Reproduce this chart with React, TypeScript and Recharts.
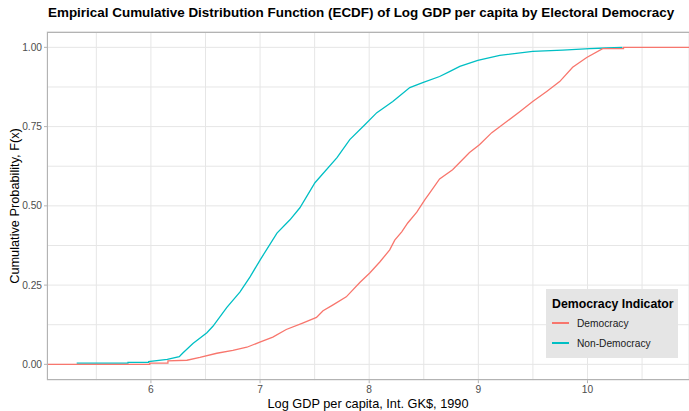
import { LineChart, Line, XAxis, YAxis, CartesianGrid } from 'recharts';

const X_MIN = 5.048;
const X_MAX = 10.93;

// ECDF of Democracy (padded to the panel edges)
const demX = [
  X_MIN, 5.99, 5.99, 6.156, 6.156, 6.33, 6.449, 6.604, 6.751, 6.879, 6.998, 7.117, 7.24, 7.39,
  7.517, 7.577, 7.665, 7.79, 7.914, 8.005, 8.097, 8.188, 8.234, 8.298, 8.353, 8.436, 8.509,
  8.555, 8.645, 8.764, 8.919, 9.01, 9.123, 9.26, 9.379, 9.498, 9.626, 9.745, 9.864, 9.993,
  10.139, 10.33, 10.33, X_MAX,
];
const demY = [
  0, 0, 0.004, 0.004, 0.011, 0.013, 0.022, 0.035, 0.044, 0.054, 0.07, 0.086, 0.11, 0.13,
  0.148, 0.169, 0.187, 0.213, 0.258, 0.288, 0.323, 0.361, 0.392, 0.418, 0.446, 0.48, 0.519,
  0.541, 0.585, 0.614, 0.668, 0.693, 0.731, 0.766, 0.797, 0.829, 0.861, 0.892, 0.937, 0.968,
  0.996, 0.996, 1, 1,
];

// ECDF of Non-Democracy (its padding is hidden under the red line)
const nonDemX = [
  5.32, 5.79, 5.79, 5.98, 5.98, 6.15, 6.26, 6.29, 6.385, 6.513, 6.568, 6.696,
  6.815, 6.907, 7.0, 7.155, 7.274, 7.365, 7.503, 7.705, 7.822, 7.96, 8.07, 8.216, 8.372, 8.49,
  8.645, 8.74, 8.83, 8.995, 9.196, 9.498, 9.773, 10.02, 10.17, 10.32,
];
const nonDemY = [
  0.004, 0.004, 0.006, 0.006, 0.009, 0.016, 0.024, 0.035, 0.066, 0.1, 0.12, 0.18,
  0.228, 0.275, 0.329, 0.414, 0.456, 0.494, 0.573, 0.652, 0.709, 0.756, 0.794, 0.829, 0.873,
  0.889, 0.908, 0.924, 0.94, 0.959, 0.975, 0.987, 0.991, 0.996, 0.998, 1,
];

const xTicks = [5.5, 6, 6.5, 7, 7.5, 8, 8.5, 9, 9.5, 10, 10.5];
const yTicks = [0, 0.125, 0.25, 0.375, 0.5, 0.625, 0.75, 0.875, 1];

const seriesNames = ['Democracy', 'Non-Democracy'];
const seriesColors = ['#F8766D', '#00BFC4'];

const demData = demX.map((x, i) => ({ x, y: demY[i] }));
const nonDemData = nonDemX.map((x, i) => ({ x, y: nonDemY[i] }));

const FONT = '"Liberation Sans", Arial, sans-serif';
const TICK_COLOR = '#B3B3B3';

const XTick = ({ x, y, payload }: any) => {
  const v = payload.value;
  if (!Number.isInteger(v)) return <g />;
  return (
    <g>
      <line x1={x} x2={x} y1={y - 5} y2={y - 2} stroke={TICK_COLOR} />
      <text x={x} y={y + 1} dy="0.71em" textAnchor="middle" fontSize={10.2} fill="#4D4D4D" fontFamily={FONT}>
        {v}
      </text>
    </g>
  );
};

const YTick = ({ x, y, payload }: any) => {
  const v = payload.value;
  if ((v * 4) % 1 !== 0) return <g />;
  return (
    <g>
      <line x1={x + 2} x2={x + 5} y1={y} y2={y} stroke={TICK_COLOR} />
      <text x={x} y={y} dy="0.355em" textAnchor="end" fontSize={10.2} fill="#4D4D4D" fontFamily={FONT}>
        {v.toFixed(2)}
      </text>
    </g>
  );
};

const PLOT_LEFT = 47;
const PLOT_TOP = 31.5;
const PLOT_H = 348.7;

export default function App() {
  return (
    <div style={{ position: 'absolute', left: 0, top: 0, width: 689, height: 411, background: '#fff', fontFamily: FONT, overflow: 'hidden' }}>
      <div style={{ position: 'absolute', left: 48, top: 5, fontSize: 13.45, fontWeight: 'bold', color: '#000', whiteSpace: 'nowrap' }}>
        Empirical Cumulative Distribution Function (ECDF) of Log GDP per capita by Electoral Democracy
      </div>
      <LineChart width={689} height={411} margin={{ top: PLOT_TOP, right: 0, bottom: 0, left: 0 }}>
        <CartesianGrid stroke="#E6E6E6" strokeWidth={1} />
        <XAxis
          type="number"
          dataKey="x"
          domain={[X_MIN, X_MAX]}
          allowDataOverflow
          ticks={xTicks}
          interval={0}
          tick={<XTick />}
          tickLine={false}
          tickSize={3}
          tickMargin={2}
          axisLine={false}
          height={411 - PLOT_TOP - PLOT_H}
        />
        <YAxis
          type="number"
          dataKey="y"
          domain={[-0.05, 1.05]}
          allowDataOverflow
          ticks={yTicks}
          interval={0}
          tick={<YTick />}
          tickLine={false}
          tickSize={3}
          tickMargin={2}
          axisLine={false}
          width={PLOT_LEFT}
        />
        <Line
          data={nonDemData}
          dataKey="y"
          type="linear"
          stroke={seriesColors[1]}
          strokeWidth={1.3}
          dot={false}
          activeDot={false}
          isAnimationActive={false}
        />
        <Line
          data={demData}
          dataKey="y"
          type="linear"
          stroke={seriesColors[0]}
          strokeWidth={1.3}
          dot={false}
          activeDot={false}
          isAnimationActive={false}
        />
      </LineChart>
      {/* panel border (right side runs off the image) */}
      <div
        style={{
          position: 'absolute',
          left: PLOT_LEFT,
          top: PLOT_TOP,
          width: 689 - PLOT_LEFT,
          height: PLOT_H,
          borderTop: `1px solid ${TICK_COLOR}`,
          borderLeft: `1px solid ${TICK_COLOR}`,
          borderBottom: `1px solid ${TICK_COLOR}`,
          boxSizing: 'border-box',
          pointerEvents: 'none',
        }}
      />
      <div style={{ position: 'absolute', left: 0, width: 689, textAlign: 'center', paddingLeft: PLOT_LEFT, boxSizing: 'border-box', top: 396, fontSize: 12.75, color: '#000' }}>
        Log GDP per capita, Int. GK$, 1990
      </div>
      <div
        style={{
          position: 'absolute',
          left: 14,
          top: PLOT_TOP + PLOT_H / 2,
          transform: 'translate(-50%, -50%) rotate(-90deg)',
          fontSize: 12.75,
          color: '#000',
          whiteSpace: 'nowrap',
        }}
      >
        Cumulative Probability, F(x)
      </div>
      {/* legend */}
      <div style={{ position: 'absolute', left: 546, top: 289, width: 132, height: 69, background: '#E5E5E5', boxSizing: 'border-box', padding: '7px 0 0 6px' }}>
        <div style={{ fontSize: 12.3, fontWeight: 'bold', color: '#000', lineHeight: '16px' }}>Democracy Indicator</div>
        {seriesNames.map((name, i) => (
          <div key={name} style={{ display: 'flex', alignItems: 'center', height: 20, marginTop: i === 0 ? 1 : 0 }}>
            <div style={{ width: 17, height: 1.3, background: seriesColors[i] }} />
            <span style={{ marginLeft: 8, fontSize: 10.2, color: '#1A1A1A' }}>{name}</span>
          </div>
        ))}
      </div>
    </div>
  );
}
